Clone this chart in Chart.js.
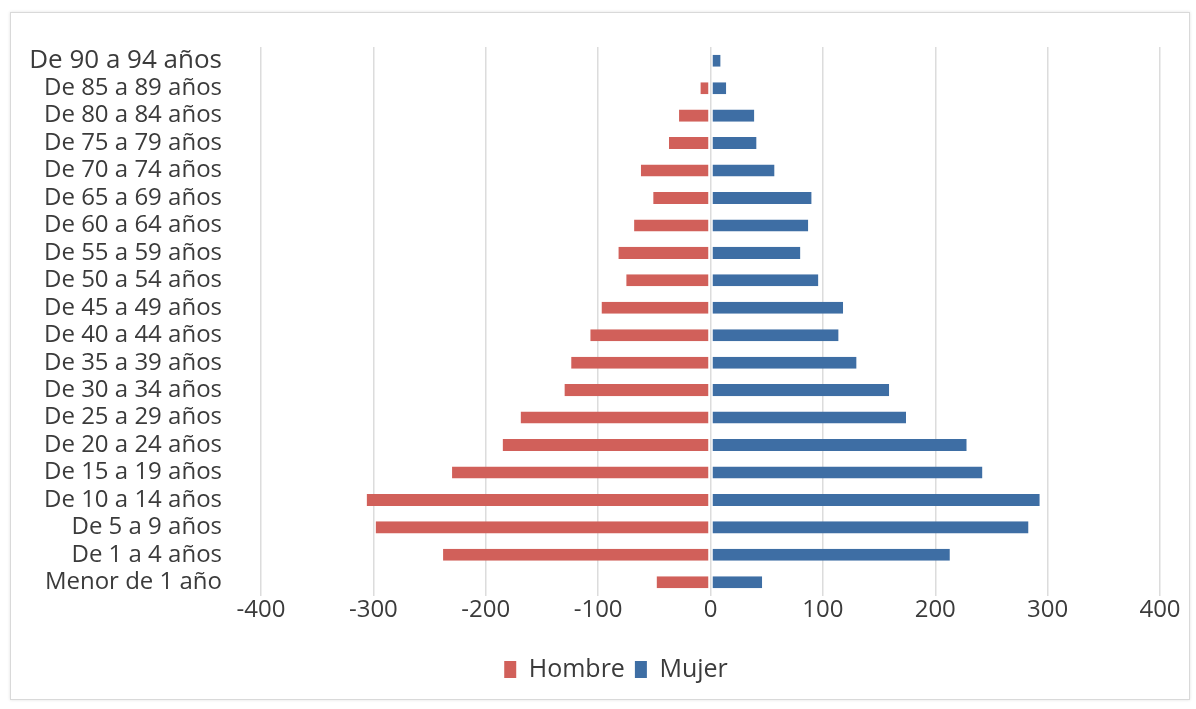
<!DOCTYPE html>
<html>
<head>
<meta charset="utf-8">
<script src="https://cdn.jsdelivr.net/npm/chart.js@4.4.1/dist/chart.umd.min.js"></script>
<style>
  html, body { margin: 0; padding: 0; background: #fff; }
  #frame {
    position: absolute; left: 10px; top: 12px; width: 1178px; height: 686px;
    border: 1px solid #d9d9d9; box-shadow: 0 0 3px rgba(0,0,0,0.12);
  }
  #wrap { position: absolute; left: 0; top: 0; width: 1196px; height: 709px; }
</style>
</head>
<body>
<div id="frame"></div>
<div id="wrap"><canvas id="pyramid"></canvas></div>
<script>
// Population pyramid data (top row first)
const ageGroups = [
  'De 90 a 94 años', 'De 85 a 89 años', 'De 80 a 84 años', 'De 75 a 79 años',
  'De 70 a 74 años', 'De 65 a 69 años', 'De 60 a 64 años', 'De 55 a 59 años',
  'De 50 a 54 años', 'De 45 a 49 años', 'De 40 a 44 años', 'De 35 a 39 años',
  'De 30 a 34 años', 'De 25 a 29 años', 'De 20 a 24 años', 'De 15 a 19 años',
  'De 10 a 14 años', 'De 5 a 9 años', 'De 1 a 4 años', 'Menor de 1 año'
];
const hombre = [0, -9, -28, -37, -62, -51, -68, -82, -75, -97,
  -107, -124, -130, -169, -185, -230, -306, -298, -238, -48];
const mujer = [9, 14, 39, 41, 57, 90, 87, 80, 96, 118,
  114, 130, 159, 174, 228, 242, 293, 283, 213, 46];
const xTicks = [-400, -300, -200, -100, 0, 100, 200, 300, 400];

(function() {
  const ctx = document.getElementById('pyramid').getContext('2d');
  const textColor = '#3b3b3b';
  const fontFamily = '"Open Sans", "Noto Sans", sans-serif';

  // nudge the legend right, the original sits a bit off centre
  const legendShift = {
    id: 'legendShift',
    afterLayout(chart) {
      chart.legend.left += 36;
      chart.legend.right += 36;
    }
  };

  new Chart(ctx, {
    type: 'bar',
    data: {
      labels: ageGroups,
      datasets: [
        {
          label: 'Hombre', data: hombre, backgroundColor: '#d1605a',
          borderColor: 'transparent', borderSkipped: false, borderWidth: { right: 1.5 }
        },
        {
          label: 'Mujer', data: mujer, backgroundColor: '#3e6ea4',
          borderColor: 'transparent', borderSkipped: false, borderWidth: { left: 1.5 }
        }
      ]
    },
    options: {
      indexAxis: 'y',
      responsive: true,
      maintainAspectRatio: false,
      animation: false,
      categoryPercentage: 1,
      barPercentage: 0.44,
      layout: { padding: { left: 0, right: 36, top: 47, bottom: 17 } },
      scales: {
        x: {
          stacked: true,
          min: -400,
          max: 400,
          afterBuildTicks: (scale) => { scale.ticks = xTicks.map(v => ({ value: v })); },
          afterFit: (scale) => { scale.height = 51; },
          grid: { color: '#dcdcdc', lineWidth: 1.5, drawTicks: false },
          border: { display: false },
          ticks: { color: textColor, padding: 0, font: { family: fontFamily, size: 24 } }
        },
        y: {
          stacked: true,
          afterFit: (scale) => { scale.width = 261; },
          grid: { display: false },
          border: { display: false },
          ticks: {
            autoSkip: false,
            color: textColor,
            padding: 31,
            font: (c) => ({ family: fontFamily, size: c.index === 0 ? 26 : 24, lineHeight: 1 })
          }
        }
      },
      plugins: {
        legend: {
          position: 'bottom',
          labels: {
            color: textColor,
            boxWidth: 12,
            boxHeight: 17,
            padding: 10,
            font: { family: fontFamily, size: 25 }
          }
        },
        tooltip: { enabled: false }
      }
    },
    plugins: [legendShift]
  });
})();
</script>
</body>
</html>
